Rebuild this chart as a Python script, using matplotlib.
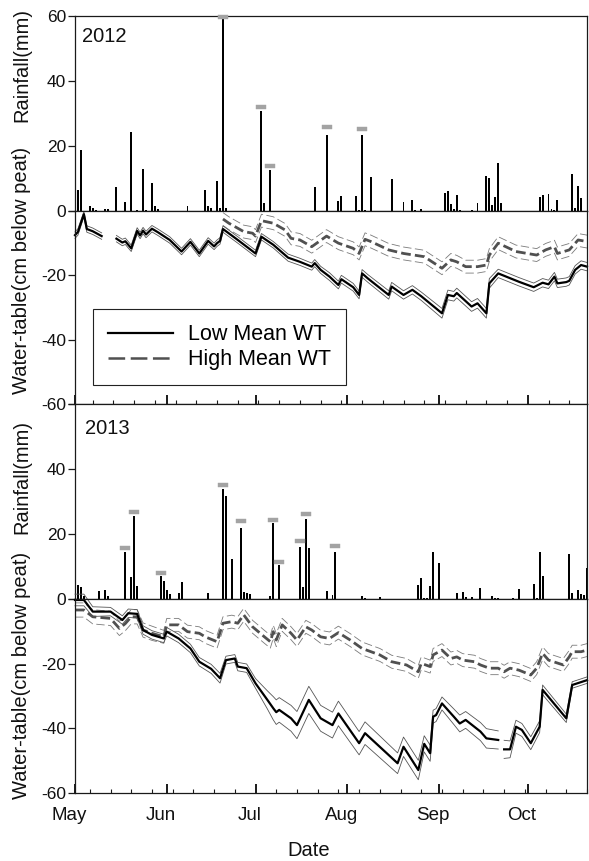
import numpy as np
import matplotlib
matplotlib.use('Agg')
import matplotlib.pyplot as plt
import matplotlib.dates as mdates
from matplotlib.lines import Line2D
from matplotlib.path import Path
from matplotlib.transforms import ScaledTranslation

plt.rcParams['font.family'] = ['Liberation Sans', 'DejaVu Sans']
plt.rcParams['lines.scale_dashes'] = False
plt.rcParams['axes.unicode_minus'] = False

nan = np.nan

# ---------------- DATA (day = days after 1 May) ----------------
rain12_days = [1, 2, 5, 6, 7, 10, 11, 14, 17, 19, 21, 23, 24, 26, 27, 28, 38, 44, 45, 46, 48, 49, 50, 51,
               63, 64, 66, 81, 85, 89, 90, 95, 96, 97, 98, 100, 107, 111, 114, 115, 117,
               125, 126, 127, 128, 129, 130, 134, 136, 139, 140, 141, 142, 143, 144,
               157, 158, 160, 161, 162, 163, 168, 169, 170, 171]
rain12_mm = [6.5, 18.8, 1.4, 0.9, 0.4, 0.6, 0.6, 7.3, 2.9, 24.3, 0.4, 12.9, 0.4, 8.7, 1.4, 0.6, 1.4, 6.6, 1.6, 0.9, 9.2, 0.9, 59.0, 0.9,
             30.7, 2.4, 12.7, 7.5, 23.4, 3.1, 4.5, 4.5, 0.4, 23.4, 0.4, 10.6, 10.0, 2.7, 3.4, 0.4, 0.6,
             5.4, 6.3, 2.3, 0.6, 5.0, 0.4, 0.4, 2.6, 10.9, 10.2, 1.7, 4.3, 14.7, 2.6,
             4.3, 4.9, 5.1, 0.6, 0.4, 3.4, 11.3, 0.9, 7.6, 3.9]
mark12_days = [50, 63, 66, 85, 97]
mark12_mm = [59.7, 31.9, 13.9, 26.0, 25.2]

rain13_days = [1, 2, 3, 8, 10, 11, 17, 19, 20, 21, 29, 30, 31, 32, 35, 36, 45, 50, 51, 53, 56, 57, 58, 59,
               66, 67, 69, 76, 77, 78, 79, 85, 87, 88, 97, 98, 103, 116, 117, 118, 119, 120, 121, 123,
               129, 131, 132, 134, 137, 141, 142, 143, 148, 150, 155, 156, 157, 158, 167, 168, 170, 171, 172, 173]
rain13_mm = [4.2, 3.8, 1.0, 2.5, 2.7, 0.9, 14.6, 6.7, 25.5, 4.0, 7.2, 5.5, 2.9, 1.4, 2.0, 5.3, 2.0, 34.0, 31.8, 12.3, 21.7, 2.2, 2.0, 1.5,
             1.0, 23.3, 10.4, 15.9, 3.8, 24.5, 15.6, 2.6, 1.2, 14.5, 1.0, 0.3, 0.5, 4.4, 6.4, 0.3, 0.3, 4.0, 14.4, 11.0,
             1.8, 2.2, 0.5, 0.5, 3.4, 1.0, 0.3, 0.3, 0.3, 3.0, 4.5, 0.3, 14.5, 7.2, 14.0, 2.0, 2.8, 1.4, 1.1, 9.4]
mark13_days = [17, 20, 29, 50, 56, 67, 69, 76, 78, 88]
mark13_mm = [15.8, 26.9, 8.1, 35.1, 24.0, 24.3, 11.3, 17.8, 26.2, 16.3]

# water table 2012
low12_days = [0, 1, 3, 4, 6, 9, 11, 14, 16, 17, 19, 21, 22, 23, 24, 26, 28, 32, 36, 39, 42, 45, 47, 48, 49, 50,
              55, 61, 63, 67, 72, 76, 80, 81, 83, 86, 89, 90, 94, 96, 97, 99, 106, 107, 111, 114, 117,
              124, 126, 128, 129, 134, 136, 139, 140, 143, 150, 155, 158, 160, 162, 163, 166, 167, 169, 171, 173]
low12_mean = [-7.5, -6.5, -1.0, -5.6, -6.3, -7.8, nan, -8.6, -9.8, -9.4, -11.6, -6.2, -7.6, -6.1, -7.3, -5.5, -6.6, -9.0, -12.6, -9.6, -13.2, -9.3, -11.0, -10.0, -9.3, -5.6,
              -9.0, -13.2, -8.0, -10.5, -14.5, -15.8, -17.3, -16.2, -18.3, -20.4, -23.0, -21.2, -23.7, -26.1, -19.4, -21.0, -26.1, -23.5, -26.1, -24.5, -26.5,
              -31.8, -26.1, -26.5, -25.5, -29.7, -28.7, -31.8, -22.5, -19.4, -22.0, -23.7, -22.3, -22.8, -20.4, -22.5, -22.1, -21.7, -18.3, -16.8, -17.3]
low12_se = [1.0, 1.0, 0.8, 1.0, 1.0, 1.0, 1.0, 1.0, 1.0, 1.0, 1.0, 1.0, 1.0, 1.0, 1.0, 1.0, 1.0, 1.0, 1.0, 1.0,
            1.0, 1.0, 1.0, 1.0, 1.0, 1.0, 1.0, 1.0, 1.0, 1.0,
            1.1, 1.1, 1.1, 1.1, 1.1,
            1.2, 1.2, 1.2, 1.2, 1.2, 1.2, 1.2,
            1.3, 1.3, 1.3, 1.3, 1.3,
            1.5, 1.5, 1.5, 1.5, 1.5, 1.5, 1.5, 1.5,
            1.3, 1.3, 1.3, 1.3, 1.3, 1.3, 1.3, 1.3, 1.3, 1.3, 1.3, 1.3]
high12_days = [50, 52, 57, 60, 61, 63, 67, 71, 73, 76, 80, 85, 89, 94, 96, 98, 100, 106, 111, 118, 124, 127, 129,
               132, 136, 139, 140, 143, 149, 156, 159, 162, 163, 167, 170, 173]
high12_mean = [-2.5, -3.8, -6.4, -6.9, -7.8, -3.0, -3.8, -5.9, -8.5, -9.0, -11.1, -7.8, -10.0, -11.6, -13.2, -8.8, -9.5, -12.1, -13.2, -14.2, -17.8, -15.2, -15.8,
               -17.3, -17.3, -16.8, -13.7, -10.0, -12.6, -13.7, -12.1, -11.1, -13.2, -12.1, -9.0, -9.5]
high12_se = [2.0] * 36

# water table 2013
low13_days = [0, 3, 6, 12, 16, 18, 21, 23, 26, 30, 31, 35, 39, 42, 46, 49, 51, 54, 55, 58, 61, 65, 67, 68, 69, 73, 75,
              79, 83, 87, 89, 96, 98, 109, 111, 116, 118, 120, 121, 122, 124, 128, 130, 132, 137, 139, 143, 144,
              145, 147, 149, 151, 154, 157, 158, 166, 168, 173]
low13_mean = [-0.3, -0.3, -3.9, -3.9, -6.5, -4.4, -4.6, -9.6, -11.1, -12.2, -10.1, -12.2, -15.3, -19.4, -21.6, -24.5, -18.9, -18.4, -20.9, -21.4, -26.1, -31.2, -33.8, -35.0, -34.3, -36.9, -39.0,
              -31.2, -36.9, -39.0, -35.4, -44.6, -41.5, -50.8, -45.7, -52.9, -44.8, -47.7, -36.4, -35.9, -32.3, -36.4, -38.5, -37.4, -41.0, -43.1, -43.6, nan,
              -46.5, -46.5, -39.5, -40.5, -44.6, -39.5, -28.1, -36.9, -26.6, -25.1]
low13_se = [1.8, 1.8, 1.5, 1.3, 1.3, 1.3, 1.3, 1.3, 1.3, 1.3, 1.3, 1.3, 1.3, 1.3, 1.4, 1.5, 1.2, 1.2, 1.3, 1.3, 1.5, 2.8, 3.6, 3.8, 3.8, 4.0, 4.2,
            4.2, 4.0, 4.0, 3.8, 3.6, 3.5, 3.2, 3.0, 3.0, 2.5, 2.5, 2.0, 2.0, 2.0, 2.4, 2.6, 2.6, 2.8, 3.0, 2.8, nan,
            2.8, 2.6, 2.0, 2.0, 2.0, 1.8, 1.5, 1.3, 1.0, 1.0]
high13_days = [0, 3, 6, 12, 15, 17, 19, 21, 23, 26, 30, 31, 35, 38, 42, 44, 48, 50, 53, 55, 57, 60, 64, 66, 67, 68, 70, 73, 75,
               78, 80, 83, 86, 89, 93, 97, 103, 107, 112, 116, 117, 120, 121, 124, 127, 129, 131, 135, 137, 140, 143,
               145, 147, 150, 154, 156, 158, 160, 165, 167, 168, 171, 173]
high13_mean = [-3.4, -3.4, -5.5, -6.0, -9.1, -7.6, -5.5, -5.5, -9.6, -10.6, -11.7, -8.0, -8.0, -10.1, -10.6, -11.7, -13.2, -7.5, -7.0, -7.5, -4.9, -8.6, -11.7, -13.2, -10.1, -12.7, -8.0, -10.6, -12.7,
               -8.6, -9.6, -11.7, -12.2, -10.4, -12.7, -15.3, -17.3, -19.4, -20.4, -22.5, -19.9, -20.9, -17.3, -15.8, -18.4, -17.9, -18.9, -19.4, -20.4, -21.4, -21.4,
               -22.5, -21.4, -22.0, -23.5, -21.4, -16.8, -18.9, -20.4, -17.9, -16.3, -16.3, -15.8]
high13_se = [2.2] * 10 + [2.0] * 53

legend_labels = ['Low Mean WT', 'High Mean WT']

# ---------------- FIGURE ----------------
W, H = 589, 861
fig = plt.figure(figsize=(W / 100, H / 100), dpi=100)


def ax_at(top, bottom):
    return fig.add_axes([75 / W, 1 - bottom / H, 512 / W, (bottom - top) / H])


axR12 = ax_at(16, 211)
axW12 = ax_at(211, 404)
axR13 = ax_at(404, 599)
axW13 = ax_at(599, 793)

rect_marker = Path([(-1, -0.5), (1, -0.5), (1, 0.5), (-1, 0.5), (-1, -0.5)],
                   [Path.MOVETO, Path.LINETO, Path.LINETO, Path.LINETO, Path.CLOSEPOLY])

SPINE_C = '#1a1a1a'


def to_dates(base, days):
    return base + np.array(days).astype('timedelta64[D]')


def style_axes(ax):
    for s in ax.spines.values():
        s.set_linewidth(0.9)
        s.set_color(SPINE_C)
    ax.tick_params(axis='y', which='major', direction='out', length=5, width=0.9,
                   labelsize=12.5, pad=1.5, colors=SPINE_C, labelcolor='#111111')
    ax.tick_params(axis='y', which='minor', left=False, right=False)


def draw_year(axR, axW, year, rdays, rmm, mdays, mmm, ld, lm, ls, hd, hm, hs, rain_ticklabels, bottom_labels):
    base = np.datetime64(f'{year}-05-01')
    x0 = base
    x1 = base + np.timedelta64(173, 'D')
    # rainfall
    axR.bar(to_dates(base, rdays), rmm, width=0.65, color='black', linewidth=0)
    axR.plot(to_dates(base, mdays), mmm, linestyle='none', marker=rect_marker, markersize=6.8,
             markerfacecolor='#a3a3a3', markeredgecolor='#a3a3a3', markeredgewidth=0.3, clip_on=False, zorder=5)
    axR.set_ylim(0, 60)
    axR.set_xlim(x0, x1)
    axR.set_yticks([0, 20, 40, 60])
    axR.set_yticklabels(rain_ticklabels)
    axR.tick_params(axis='x', which='both', bottom=False, top=False, labelbottom=False)
    style_axes(axR)

    # water table
    ldt = to_dates(base, ld)
    hdt = to_dates(base, hd)
    lm = np.array(lm); ls = np.array(ls)
    hm = np.array(hm); hs = np.array(hs)
    axW.plot(hdt, hm + hs, color='#7a7a7a', lw=0.6, dashes=(6, 2.5), clip_on=False)
    axW.plot(hdt, hm - hs, color='#7a7a7a', lw=0.6, dashes=(6, 2.5), clip_on=False)
    axW.plot(hdt, hm, color='#505050', lw=2.0, dashes=(7, 3), clip_on=False)
    axW.plot(ldt, lm + ls, color='#555555', lw=0.6, clip_on=False)
    axW.plot(ldt, lm - ls, color='#555555', lw=0.6, clip_on=False)
    axW.plot(ldt, lm, color='black', lw=1.6, clip_on=False)
    axW.set_ylim(-60, 0)
    axW.set_xlim(x0, x1)
    axW.set_yticks([-60, -40, -20, 0])
    axW.set_yticklabels(['-60', '-40', '-20', ''])
    axW.xaxis.set_major_locator(mdates.MonthLocator())
    axW.xaxis.set_minor_locator(mdates.WeekdayLocator(byweekday=mdates.MO))
    axW.xaxis.set_major_formatter(mdates.DateFormatter('%b'))
    axW.tick_params(axis='x', which='major', direction='in', length=6.5, width=1.4, colors=SPINE_C,
                    labelsize=13.5, pad=10, labelbottom=bottom_labels, labelcolor='#111111')
    axW.tick_params(axis='x', which='minor', direction='in', length=3.0, width=0.8, colors=SPINE_C)
    style_axes(axW)


draw_year(axR12, axW12, 2012, rain12_days, rain12_mm, mark12_days, mark12_mm,
          low12_days, low12_mean, low12_se, high12_days, high12_mean, high12_se,
          ['0', '20', '40', '60'], False)
draw_year(axR13, axW13, 2013, rain13_days, rain13_mm, mark13_days, mark13_mm,
          low13_days, low13_mean, low13_se, high13_days, high13_mean, high13_se,
          ['0', '20', '40', ''], True)

# year labels
axR12.text(7 / 512, (211 - 42) / 195, '2012', transform=axR12.transAxes, fontsize=14.5,
           ha='left', va='baseline', color='#111111')
axR13.text(10 / 512, (599 - 434) / 195, '2013', transform=axR13.transAxes, fontsize=14.5,
           ha='left', va='baseline', color='#111111')

# axis titles
for yc, txt in [(65, 'Rainfall(mm)'), (270, 'Water-table(cm below peat)'),
                (477, 'Rainfall(mm)'), (675, 'Water-table(cm below peat)')]:
    fig.text(22 / W, 1 - yc / H, txt, rotation=90, ha='center', va='center', fontsize=14.5, color='#111111')
fig.text(309 / W, 1 - 851 / H, 'Date', ha='center', va='center', fontsize=14.5, color='#111111')

# legend
handles = [Line2D([], [], color='black', lw=1.6),
           Line2D([], [], color='#505050', lw=1.8, dashes=(12, 4))]
leg = fig.legend(handles, legend_labels, loc='upper left', bbox_to_anchor=(93 / W, 1 - 309 / H),
                 bbox_transform=fig.transFigure, borderaxespad=0, fontsize=15.5, frameon=True,
                 fancybox=False, edgecolor='#222222', framealpha=1, borderpad=0.7,
                 handlelength=3.0, handletextpad=0.7, labelspacing=0.2)
leg.get_frame().set_linewidth(0.8)

# shift month labels slightly left as in the original
fig.canvas.draw()
offset = ScaledTranslation(-6 / 100, 0, fig.dpi_scale_trans)
for lbl in axW13.get_xticklabels():
    lbl.set_transform(lbl.get_transform() + offset)

fig.savefig('out.png', dpi=100)
